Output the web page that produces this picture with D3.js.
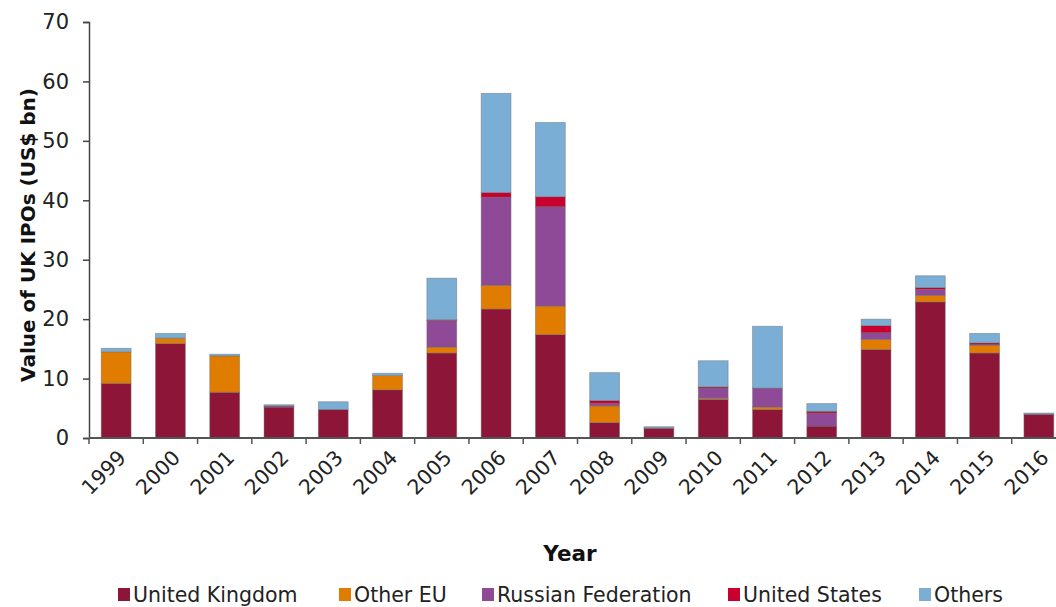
<!DOCTYPE html>
<html><head><meta charset="utf-8">
<script src="https://cdn.jsdelivr.net/npm/d3@7"></script>
<style>body{margin:0;background:#fff;overflow:hidden}svg{display:block}</style>
</head><body>
<svg id="c" width="1056" height="607"></svg>
<script>
const years = ["1999","2000","2001","2002","2003","2004","2005","2006","2007","2008","2009","2010","2011","2012","2013","2014","2015","2016"];
const seriesNames = ["United Kingdom","Other EU","Russian Federation","United States","Others"];
const unitedKingdom = [9.2,15.9,7.7,5.2,4.8,8.1,14.3,21.7,17.4,2.6,1.6,6.5,4.8,2.0,14.9,22.9,14.3,4.0];
const otherEU       = [5.3,0.9,6.1,0.0,0.0,2.4,1.0,4.0,4.8,2.8,0.0,0.2,0.4,0.0,1.7,1.1,1.3,0.0];
const russianFed    = [0.0,0.0,0.0,0.2,0.0,0.0,4.5,14.8,16.7,0.4,0.1,1.7,3.2,2.2,1.1,1.0,0.1,0.0];
const unitedStates  = [0.0,0.0,0.0,0.0,0.0,0.0,0.1,0.8,1.7,0.5,0.0,0.2,0.0,0.3,1.2,0.3,0.3,0.0];
const others        = [0.6,0.8,0.3,0.2,1.3,0.4,7.0,16.7,12.5,4.7,0.2,4.4,10.4,1.3,1.1,2.0,1.6,0.2];
const yTicks = [0,10,20,30,40,50,60,70];
const colors = ["#8c1538","#e07c00","#8e4a97","#c8002f","#7aaed4"];

const table = years.map((y,i)=>({year:y, "United Kingdom":unitedKingdom[i], "Other EU":otherEU[i],
  "Russian Federation":russianFed[i], "United States":unitedStates[i], "Others":others[i]}));

const svg = d3.select("#c");
const x = d3.scaleBand().domain(years).range([89,1066]).paddingInner(0.45).paddingOuter(0.225);
const y = d3.scaleLinear().domain([0,70]).range([438,22]);
const color = d3.scaleOrdinal().domain(seriesNames).range(colors);
const stack = d3.stack().keys(seriesNames)(table);

svg.append("g").selectAll("g").data(stack).join("g")
  .attr("fill", d=>color(d.key))
  .selectAll("rect").data(d=>d).join("rect")
  .attr("x", d=>x(d.data.year))
  .attr("width", x.bandwidth())
  .attr("y", d=>y(d[1]))
  .attr("height", d=>Math.max(0, y(d[0])-y(d[1])))
  .attr("stroke", "rgba(110,110,110,0.55)")
  .attr("stroke-width", 0.8);

const font = "'DejaVu Sans', Verdana, sans-serif";
// Y axis
const ya = svg.append("g").attr("transform","translate(89,0)")
  .call(d3.axisLeft(y).tickValues(yTicks).tickSize(6).tickPadding(14));
ya.selectAll("text").attr("font-family",font).attr("font-size",21).attr("fill","#222");
ya.select(".domain").attr("stroke","#444").attr("stroke-width",1.5);
ya.selectAll(".tick line").attr("stroke","#444").attr("stroke-width",1.5);

// X axis with ticks between categories
const xg = svg.append("g").attr("transform","translate(0,438)");
xg.append("line").attr("x1",89).attr("x2",1066).attr("y1",0).attr("y2",0).attr("stroke","#555").attr("stroke-width",2);
const step = x.step();
xg.selectAll("line.tk").data(years).join("line").attr("class","tk")
  .attr("x1", d=>x(d)-(step-x.bandwidth())/2).attr("x2", d=>x(d)-(step-x.bandwidth())/2)
  .attr("y1",0).attr("y2",6).attr("stroke","#555").attr("stroke-width",1.5);
xg.selectAll("text").data(years).join("text")
  .attr("transform", d=>`translate(${x(d)+x.bandwidth()/2+6},${16}) rotate(-45)`)
  .attr("text-anchor","end").attr("dy","0.35em")
  .attr("font-family",font).attr("font-size",20.5).attr("fill","#222")
  .text(d=>d);

// Axis titles
svg.append("text").attr("transform","translate(35,235) rotate(-90)")
  .attr("text-anchor","middle").attr("font-family",font).attr("font-weight","bold")
  .attr("font-size",20).attr("fill","#111").text("Value of UK IPOs (US$ bn)");
svg.append("text").attr("x",570).attr("y",561).attr("text-anchor","middle")
  .attr("font-family",font).attr("font-weight","bold").attr("font-size",21.5).attr("fill","#111").text("Year");

// Legend
const legX = [118,339,482,728,919];
const lg = svg.append("g").selectAll("g").data(seriesNames).join("g")
  .attr("transform",(d,i)=>`translate(${legX[i]},0)`);
lg.append("rect").attr("x",0).attr("y",588).attr("width",12).attr("height",13).attr("fill",d=>color(d));
lg.append("text").attr("x",15).attr("y",602).attr("font-family",font).attr("font-size",20.5).attr("fill","#222").text(d=>d);
</script>
</body></html>
